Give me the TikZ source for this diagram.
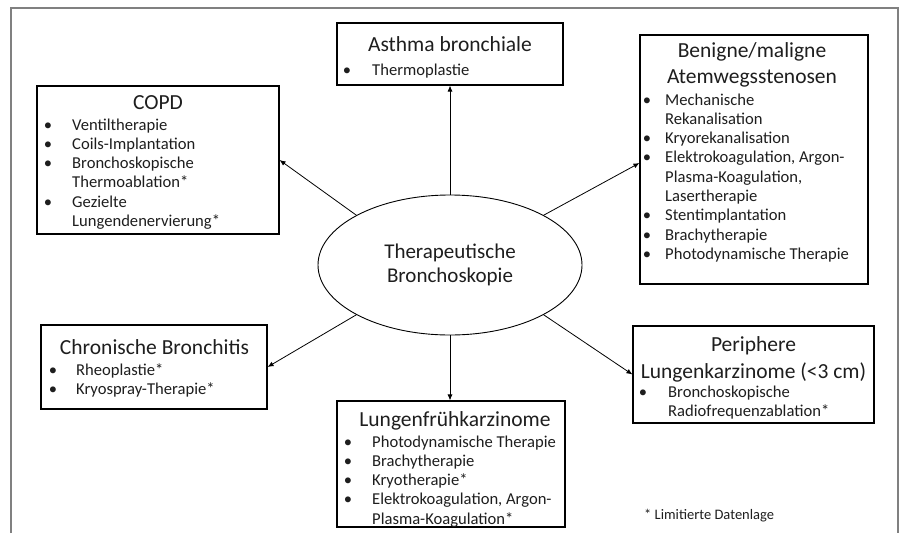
\documentclass[tikz,border=0pt]{standalone}
\usepackage{fontspec}
\setmainfont{Carlito}
\usetikzlibrary{arrows.meta,calc,shapes.geometric}
\newcommand\itmfont{\fontsize{16.6}{19.3}\selectfont}
\newcommand\ttlfont{\fontsize{21.5}{26}\selectfont}
\definecolor{txt}{HTML}{1E1E1E}
\definecolor{frame}{HTML}{808080}
\newcommand\blist[5]{%
  \foreach[count=\i] \b/\t in {#5}{%
    \pgfmathsetmacro\yy{#4+(\i-1)*19.3}
    \node[itm] (#1-t\i) at (#3,\yy) {\t};
    \ifnum\b=1 \node[bul] (#1-b\i) at (#2,\yy) {\textbullet};\fi
  }}
\begin{document}
\begin{tikzpicture}[x=1pt,y=-1pt,
  box/.style={draw=black, line width=1.1pt, inner sep=0pt},
  itm/.style={anchor=base west, inner sep=0pt, font=\itmfont, text=txt},
  bul/.style={anchor=base, inner sep=0pt, font=\itmfont, text=txt},
  ttl/.style={anchor=base, inner sep=0pt, font=\ttlfont, text=txt},
  arr/.style={-{Latex[length=6pt,width=5pt]}, line width=0.8pt}]
\useasboundingbox (0,0) rectangle (901,533);
\fill[white] (0,0) rectangle (901,533);
% frame
\draw[frame, line width=2pt] (11,533) -- (11,8) -- (898,8) -- (898,533);

% central ellipse
\node[ellipse, draw=black, line width=0.9pt, minimum width=264pt, minimum height=140pt,
      inner sep=0pt, align=center, text=txt, font=\fontsize{21}{24}\selectfont]
  (ell) at (450,265) {Therapeutische\\Bronchoskopie};

% boxes
\node[box, minimum width=226pt, minimum height=62pt]  (asthma) at (450,54) {};
\node[box, minimum width=242pt, minimum height=148pt] (copd)   at (158,160) {};
\node[box, minimum width=228pt, minimum height=249pt] (ben)    at (754,159.5) {};
\node[box, minimum width=226pt, minimum height=84pt]  (chron)  at (154,367) {};
\node[box, minimum width=228pt, minimum height=126pt] (lung)   at (451,464) {};
\node[box, minimum width=241pt, minimum height=97pt]  (peri)   at (753.5,374.5) {};

% titles
\node[ttl] (asthma-h) at (450,51.5) {Asthma bronchiale};
\node[ttl] (copd-h) at (158,109.5) {COPD};
\node[ttl] (ben-h1) at (752,57.5) {Benigne/maligne};
\node[ttl] (ben-h2) at (752,83.5) {Atemwegsstenosen};
\node[ttl] (chron-h) at (154.5,354.5) {Chronische Bronchitis};
\node[ttl] (lung-h) at (455,426.5) {Lungenfrühkarzinome};
\node[ttl] (peri-h1) at (753.5,351.5) {Periphere};
\node[ttl] (peri-h2) at (753.5,378.5) {Lungenkarzinome (<3 cm)};

% lists
\blist{asthma}{347}{372}{75}{1/Thermoplastie}
\blist{copd}{48}{72}{130}{1/Ventiltherapie,1/Coils-Implantation,1/Bronchoskopische,0/Thermoablation*,1/Gezielte,0/Lungendenervierung*}
\blist{ben}{647}{665}{105}{1/Mechanische,0/Rekanalisation,1/Kryorekanalisation,1/{Elektrokoagulation, Argon-},0/{Plasma-Koagulation,},0/Lasertherapie,1/Stentimplantation,1/Brachytherapie,1/Photodynamische Therapie}
\blist{chron}{53}{76}{375}{1/Rheoplastie*,1/Kryospray-Therapie*}
\blist{lung}{348}{372}{447}{1/Photodynamische Therapie,1/Brachytherapie,1/Kryotherapie*,1/{Elektrokoagulation, Argon-},0/Plasma-Koagulation*}
\blist{peri}{643}{668}{397}{1/Bronchoskopische,0/Radiofrequenzablation*}

% footnote
\node[anchor=base west, inner sep=0pt, font=\fontsize{14.5}{17}\selectfont, text=txt]
  (note) at (644,519) {* Limitierte Datenlage};

% connectors
\draw[arr] (ell.north) -- (asthma.south);
\draw[arr] (ell.152) -- (copd.east);
\draw[arr] (ell.28) -- ($(ben.west)+(0,3.5)$);
\draw[arr] (ell.208) -- (chron.east);
\draw[arr] (ell.south) -- (ell.south |- lung.north);
\draw[arr] (ell.332) -- (peri.west);
\end{tikzpicture}
\end{document}
